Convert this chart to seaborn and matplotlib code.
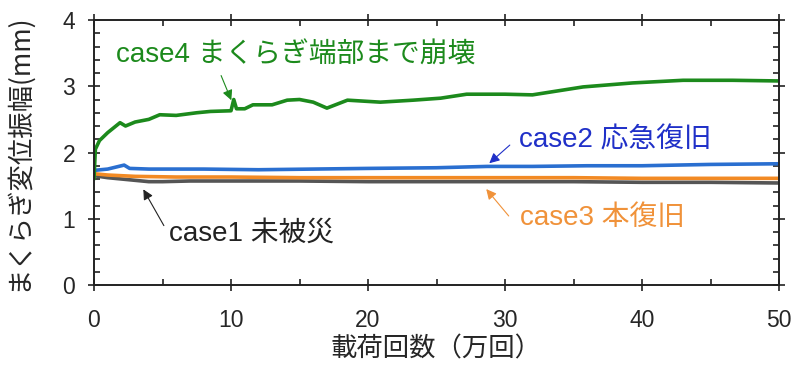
import pandas as pd
import seaborn as sns
import matplotlib.pyplot as plt

# readings (x: 万回, y: mm) estimated from the figure
x1 = [0, 1, 2, 3, 4, 5, 7, 10, 15, 20, 25, 30, 35, 40, 45, 50]
y1 = [1.65, 1.62, 1.60, 1.58, 1.56, 1.56, 1.57, 1.57, 1.57, 1.56, 1.56, 1.56, 1.56, 1.55, 1.55, 1.54]

x2 = [0, 1, 1.8, 2.2, 2.6, 4, 8, 12, 16, 20, 25, 28.7, 32, 36, 40, 45, 50]
y2 = [1.73, 1.75, 1.79, 1.81, 1.76, 1.75, 1.75, 1.74, 1.75, 1.76, 1.77, 1.79, 1.79, 1.80, 1.80, 1.82, 1.83]

x3 = [0, 1, 3, 6, 10, 15, 20, 25, 30, 35, 40, 45, 50]
y3 = [1.68, 1.66, 1.64, 1.63, 1.63, 1.62, 1.62, 1.62, 1.62, 1.62, 1.61, 1.61, 1.61]

x4 = [0, 0.1, 0.4, 1.0, 1.9, 2.3, 3.0, 4.0, 4.8, 6.0, 7.5, 8.5, 10.0, 10.2, 10.4, 11.0, 11.6,
      13.0, 14.1, 15.0, 16.0, 17.0, 18.5, 20.9, 23.3, 25.3, 27.2, 30.0, 32.0, 35.7, 39.3,
      43.0, 46.6, 50.0]
y4 = [1.6, 2.05, 2.18, 2.30, 2.45, 2.40, 2.46, 2.50, 2.57, 2.56, 2.60, 2.62, 2.63, 2.80, 2.66,
      2.66, 2.72, 2.72, 2.79, 2.80, 2.76, 2.67, 2.79, 2.76, 2.79, 2.82, 2.88, 2.88, 2.87, 2.99,
      3.05, 3.09, 3.09, 3.08]

cases = ["case1", "case3", "case2", "case4"]
colors = {"case1": "#555555", "case3": "#f28a24", "case2": "#2a6fd0", "case4": "#1c8a1c"}

df = pd.concat([
    pd.DataFrame({"x": x1, "y": y1, "case": "case1"}),
    pd.DataFrame({"x": x3, "y": y3, "case": "case3"}),
    pd.DataFrame({"x": x2, "y": y2, "case": "case2"}),
    pd.DataFrame({"x": x4, "y": y4, "case": "case4"}),
])

sns.set_style("ticks")
fonts = ["Liberation Sans", "Noto Sans CJK JP", "DejaVu Sans"]
plt.rcParams["font.family"] = fonts

fig = plt.figure(figsize=(8, 3.67), dpi=100)
ax = fig.add_axes([0.1175, 0.2234, 0.8563, 0.7221])

sns.lineplot(data=df, x="x", y="y", hue="case", hue_order=cases, palette=colors,
             estimator=None, sort=False, linewidth=2.6, legend=False, ax=ax)

ax.set_xlim(0, 50)
ax.set_ylim(0, 4)
ax.set_xticks([0, 10, 20, 30, 40, 50])
ax.set_xticks([5, 15, 25, 35, 45], minor=True)
ax.set_yticks([0, 1, 2, 3, 4])
ax.set_yticks([i * 0.2 for i in range(21)], minor=True)
ax.tick_params(which="both", top=True, right=True, labelsize=16.5, color="#222222", width=1.2)
ax.tick_params(which="major", length=9, direction="inout")
ax.tick_params(which="minor", length=4, direction="in")
ax.tick_params(axis="x", which="major", pad=13)
ax.tick_params(axis="y", which="major", pad=9)
for s in ax.spines.values():
    s.set_linewidth(1.4)
    s.set_color("#222222")

jp = ["Noto Sans CJK JP", "DejaVu Sans"]
ax.set_xlabel("載荷回数（万回）", fontsize=19, family=jp, labelpad=2)
ax.set_ylabel("まくらぎ変位振幅(mm)", fontsize=19, family=jp, labelpad=22)

def note(text, xy, xytext, tc, ac, tx, ty):
    ax.annotate("", xy=xy, xytext=xytext,
                arrowprops=dict(arrowstyle="-|>", color=ac, lw=0.8, mutation_scale=15))
    ax.text(tx, ty, text, color=tc, fontsize=20, family=fonts, va="center", ha="left")

note("case4 まくらぎ端部まで崩壊", (10.1, 2.75), (9.2, 3.2), "#1c8a1c", "#1c8a1c", 1.6, 3.46)
note("case2 応急復旧", (28.7, 1.81), (30.5, 2.14), "#2030c8", "#2030c8", 31.0, 2.19)
note("case3 本復旧", (28.5, 1.48), (30.4, 1.01), "#f0923a", "#f0923a", 31.1, 1.01)
note("case1 未被災", (3.5, 1.48), (5.2, 0.86), "#222222", "#222222", 5.5, 0.77)

fig.savefig("out.png", dpi=100)
